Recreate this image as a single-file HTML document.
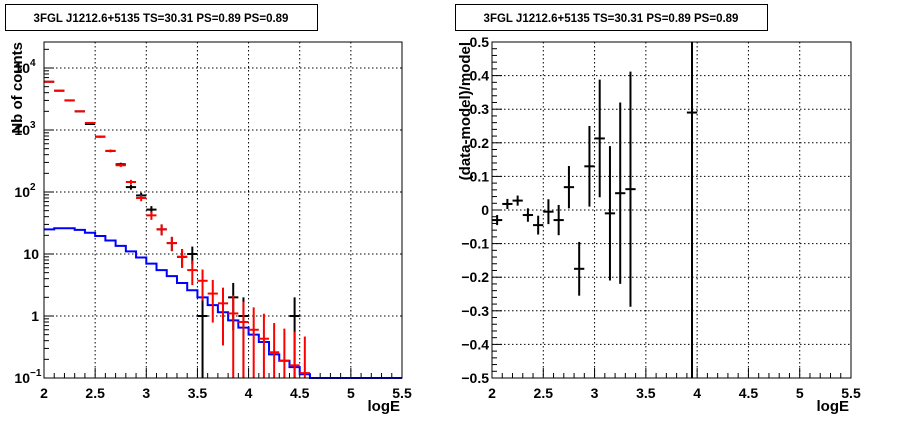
<!DOCTYPE html>
<html><head><meta charset="utf-8"><style>
body{margin:0;background:#fff}
svg{display:block;font-family:"Liberation Sans",Arial,sans-serif;font-weight:bold}
</style></head><body>
<svg id="c" width="898" height="421" viewBox="0 0 898 421">
<rect x="0" y="0" width="898" height="421" fill="#fff"/>
<g><rect x="5.5" y="4.5" width="312" height="26" fill="#fff" stroke="#000"/><text x="161" y="22" font-size="11.5" text-anchor="middle">3FGL J1212.6+5135 TS=30.31 PS=0.89 PS=0.89</text></g>
<g><rect x="455.5" y="4.5" width="312" height="26" fill="#fff" stroke="#000"/><text x="611" y="22" font-size="11.5" text-anchor="middle">3FGL J1212.6+5135 TS=30.31 PS=0.89 PS=0.89</text></g>
<g id="L"></g><g id="R"></g>
</svg>
<script>
const binCenters=[2.05,2.15,2.25,2.35,2.45,2.55,2.65,2.75,2.85,2.95,3.05,3.15,3.25,3.35,3.45,3.55,3.65,3.75,3.85,3.95,4.05,4.15,4.25,4.35,4.45,4.55];
const dataCounts=[6000,4300,3000,2000,1250,780,460,280,120,88,52,25,15,9,10,1,0,0,2,1,0,0,0,0,1,0];
const modelCounts=[6000,4300,3000,2000,1300,780,460,270,145,80,42,25,15,9,5.5,3.7,2.3,1.6,1.1,0.8,0.6,0.43,0.26,0.19,0.16,0.12];
const blueEdges=[2.0,2.1,2.2,2.3,2.4,2.5,2.6,2.7,2.8,2.9,3.0,3.1,3.2,3.3,3.4,3.5,3.6,3.7,3.8,3.9,4.0,4.1,4.2,4.3,4.4,4.5,4.6,5.5];
const blueValues=[25,26,26,24.5,22,19.5,16.5,13.5,11,8.8,7,5.5,4.4,3.4,2.6,2.0,1.5,1.15,0.85,0.65,0.5,0.38,0.24,0.19,0.15,0.115,0.1];
const resX=[2.05,2.15,2.25,2.35,2.45,2.55,2.65,2.75,2.85,2.95,3.05,3.15,3.25,3.35,3.95];
const resVal=[-0.03,0.018,0.028,-0.015,-0.045,-0.005,-0.03,0.068,-0.175,0.13,0.213,-0.01,0.05,0.062,0.29];
const resErr=[0.015,0.015,0.015,0.02,0.028,0.037,0.045,0.063,0.08,0.12,0.175,0.2,0.27,0.35,1.5];
const xTicks=["2","2.5","3","3.5","4","4.5","5","5.5"];
const rTicks=["\u22120.5","\u22120.4","\u22120.3","\u22120.2","\u22120.1","0","0.1","0.2","0.3","0.4","0.5"];

const NS="http://www.w3.org/2000/svg";
function mk(p,t,a,txt){const e=document.createElementNS(NS,t);for(const k in a)e.setAttribute(k,a[k]);if(txt!==undefined)e.textContent=txt;p.appendChild(e);return e;}
const T=42,B=378;
// LEFT
const L=document.getElementById('L');
const lx=v=>44+(v-2)*(402-44)/3.5;
const ly=v=>B-(Math.log10(v)+1)*62;
const lyc=v=>v<=0?B:Math.min(B,Math.max(T,ly(v)));
function axesX(g,xf,x0,x1){
  for(let i=0;i<=35;i++){const v=2+i*0.1;const X=xf(v);const maj=i%5===0;
    const t=mk(g,'line',{x1:X,x2:X,y1:B,y2:B-(maj?10:5),stroke:'#000'});
    
    if(maj&&i>0&&i<35){const gl=mk(g,'line',{x1:X,x2:X,y1:T,y2:B,stroke:'#000','stroke-dasharray':'1.5,2.5'});
      }}
  xTicks.forEach((s,i)=>{const t=mk(g,'text',{x:xf(2+i*0.5),y:398,'font-size':14,'text-anchor':'middle'},s);
    });
  const xt=mk(g,'text',{x:x1-2,y:411,'font-size':15,'text-anchor':'end'},'logE');
  
}
axesX(L,lx,44,402);
for(let d=-1;d<=4;d++){for(let m=1;m<=9;m++){const v=m*Math.pow(10,d);const Y=ly(v);if(Y<T)continue;
  const t=mk(L,'line',{x1:44,x2:44+(m===1?10:5),y1:Y,y2:Y,stroke:'#000'});
  }
  if(d>-1&&d<=4){const gl=mk(L,'line',{x1:44,x2:402,y1:ly(Math.pow(10,d)),y2:ly(Math.pow(10,d)),stroke:'#000','stroke-dasharray':'1.5,2.5'});
    }}
const ylabs=[[-1,'10','\u22121'],[0,'1'],[1,'10'],[2,'10','2'],[3,'10','3'],[4,'10','4']];
ylabs.forEach(l=>{const Y=ly(Math.pow(10,l[0]));const t=mk(L,'text',{x:l[2]?30:39,y:Y+5,'font-size':14,'text-anchor':'end'},l[1]);
  
  if(l[2]){const s=mk(L,'text',{x:30,y:Y-2,'font-size':10},l[2]);}});
const yt=mk(L,'text',{x:0,y:0,'font-size':15,'text-anchor':'end',transform:'translate(22,42) rotate(-90)'},'Nb of counts');

// blue step
let d='';blueValues.forEach((v,i)=>{const Y=lyc(v);d+=(i===0?'M':'L')+lx(blueEdges[i])+','+Y+'L'+lx(blueEdges[i+1])+','+Y;});
const bl=mk(L,'path',{d:d,fill:'none',stroke:'#0000ff','stroke-width':2});

function cross(g,x,xf,v,e,yf,col,name){if(v<=0)return;const X=xf(x);
  const h=mk(g,'line',{x1:xf(x-0.05),x2:xf(x+0.05),y1:yf(v),y2:yf(v),stroke:col,'stroke-width':2});
  
  const vv=mk(g,'line',{x1:X,x2:X,y1:yf(v+e),y2:yf(v-e),stroke:col,'stroke-width':2});
  }
binCenters.forEach((x,i)=>cross(L,x,lx,dataCounts[i],Math.sqrt(dataCounts[i]),lyc,'#000','data-point'));
binCenters.forEach((x,i)=>cross(L,x,lx,modelCounts[i],Math.sqrt(modelCounts[i]),lyc,'#ff0000','model-point'));
const lf=mk(L,'rect',{x:44,y:T,width:358,height:B-T,fill:'none',stroke:'#000'});

// RIGHT
const R=document.getElementById('R');
const rx=v=>492+(v-2)*(851-492)/3.5;
const ry=v=>Math.min(B,Math.max(T,B-(v+0.5)*(B-T)));
axesX(R,rx,492,851);
for(let i=0;i<=50;i++){const v=-0.5+i*0.02;const Y=ry(v);const maj=i%5===0;
  const t=mk(R,'line',{x1:492,x2:492+(maj?10:5),y1:Y,y2:Y,stroke:'#000'});
  
  if(maj&&i>0&&i<50){const gl=mk(R,'line',{x1:492,x2:851,y1:Y,y2:Y,stroke:'#000','stroke-dasharray':'1.5,2.5'});
    }}
rTicks.forEach((s,i)=>{const t=mk(R,'text',{x:489,y:ry(-0.5+i*0.1)+5,'font-size':14,'text-anchor':'end'},s);
  });
const ryt=mk(R,'text',{x:0,y:0,'font-size':15,'text-anchor':'end',transform:'translate(470,42) rotate(-90)'},'(data-model)/model');

resX.forEach((x,i)=>{const X=rx(x);
  const h=mk(R,'line',{x1:rx(x-0.05),x2:rx(x+0.05),y1:ry(resVal[i]),y2:ry(resVal[i]),stroke:'#000','stroke-width':2});
  
  const v=mk(R,'line',{x1:X,x2:X,y1:ry(resVal[i]+resErr[i]),y2:ry(resVal[i]-resErr[i]),stroke:'#000','stroke-width':2});
  });
const rf=mk(R,'rect',{x:492,y:T,width:359,height:B-T,fill:'none',stroke:'#000'});

</script>
</body></html>
